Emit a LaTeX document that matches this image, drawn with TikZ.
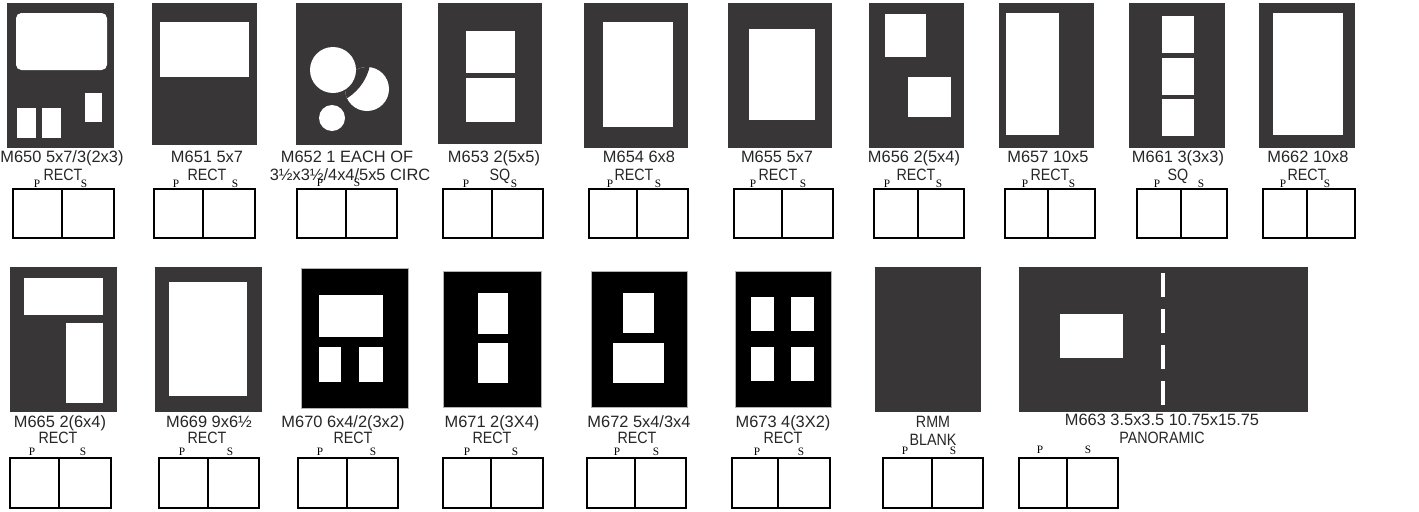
\documentclass[tikz,border=0pt]{standalone}
\usepackage{fontspec}
\setmainfont{Liberation Sans}
\newfontfamily\capsfont[FakeStretch=0.87]{Liberation Sans}
\newfontfamily\psfont{Liberation Serif}
\definecolor{matgray}{RGB}{56,54,55}

\begin{document}
\begin{tikzpicture}[x=0.75pt, y=-0.75pt,
    mat/.style={fill=matgray},
    blackmat/.style={fill=black, draw=gray!60, line width=0.5pt},
    win/.style={fill=white},
    lbl/.style={anchor=base, inner sep=0pt, text=black!85, font=\fontsize{12.3}{14}\selectfont},
    caps/.style={lbl, font=\capsfont\fontsize{12.3}{14}\selectfont},
    pslbl/.style={anchor=base, inner sep=0pt, font=\psfont\fontsize{8.5}{9}\selectfont},
    psbox/.style={draw, line width=1.4pt}]
    \useasboundingbox (0,0) rectangle (1419,511);

    % top row
    % M650
    \fill[mat] (7,3) rectangle (114,148);
    \fill[win, rounded corners=4pt] (16,13) rectangle (107,70);
    \fill[win] (17,108) rectangle (36,138);
    \fill[win] (42,108) rectangle (61,138);
    \fill[win] (85,93) rectangle (102,122);
    \node[lbl] (t650a) at (62,162) {M650 5x7/3(2x3)};
    \node[caps] (t650b) at (63,180) {RECT};
    \node[pslbl] (p650) at (37,187) {P};
    \node[pslbl] (s650) at (84,187) {S};

    % M651
    \fill[mat] (152,3) rectangle (257,145);
    \fill[win] (160,22) rectangle (249,77);
    \node[lbl] (t651a) at (207,162) {M651 5x7};
    \node[caps] (t651b) at (207,180) {RECT};
    \node[pslbl] (p651) at (176,187) {P};
    \node[pslbl] (s651) at (235,187) {S};

    % M652
    \fill[mat] (296,3) rectangle (402,145);
    \fill[win] (367,89) circle[radius=22];
    \begin{scope}
        \clip (367,89) circle[radius=22];
        \fill[mat] (320,55) circle[radius=51];
    \end{scope}
    \fill[win] (333,70) circle[radius=23];
    \fill[win] (332,118) circle[radius=13];
    \node[lbl] (t652a) at (347,162) {M652 1 EACH OF};
    \node[lbl] (t652b) at (350,180) {3½x3½/4x4/5x5 CIRC};
    \node[pslbl] (p652) at (320,186) {P};
    \node[pslbl] (s652) at (357,186) {S};

    % M653
    \fill[mat] (438,3) rectangle (542,144);
    \fill[win] (466,31) rectangle (515,73);
    \fill[win] (466,78) rectangle (515,122);
    \node[lbl] (t653a) at (494,162) {M653 2(5x5)};
    \node[caps] (t653b) at (500,180) {SQ};
    \node[pslbl] (p653) at (466,187) {P};
    \node[pslbl] (s653) at (514,187) {S};

    % M654
    \fill[mat] (584,3) rectangle (688,148);
    \fill[win] (603,22) rectangle (673,127);
    \node[lbl] (t654a) at (639,162) {M654 6x8};
    \node[caps] (t654b) at (634,180) {RECT};
    \node[pslbl] (p654) at (610,187) {P};
    \node[pslbl] (s654) at (658,187) {S};

    % M655
    \fill[mat] (728,3) rectangle (832,148);
    \fill[win] (749,29) rectangle (815,120);
    \node[lbl] (t655a) at (777,162) {M655 5x7};
    \node[caps] (t655b) at (778,180) {RECT};
    \node[pslbl] (p655) at (753,187) {P};
    \node[pslbl] (s655) at (803,187) {S};

    % M656
    \fill[mat] (869,3) rectangle (964,148);
    \fill[win] (885,14) rectangle (926,57);
    \fill[win] (908,77) rectangle (951,117);
    \node[lbl] (t656a) at (914,162) {M656 2(5x4)};
    \node[caps] (t656b) at (916,180) {RECT};
    \node[pslbl] (p656) at (887,187) {P};
    \node[pslbl] (s656) at (939,187) {S};

    % M657
    \fill[mat] (999,3) rectangle (1094,148);
    \fill[win] (1006,13) rectangle (1059,135);
    \node[lbl] (t657a) at (1048,162) {M657 10x5};
    \node[caps] (t657b) at (1050,180) {RECT};
    \node[pslbl] (p657) at (1025,187) {P};
    \node[pslbl] (s657) at (1072,187) {S};

    % M661
    \fill[mat] (1129,3) rectangle (1225,148);
    \foreach \y in {16,58,99} {
        \fill[win] (1162,\y) rectangle (1194,\y+37);
    }
    \node[lbl] (t661a) at (1178,162) {M661 3(3x3)};
    \node[caps] (t661b) at (1178,180) {SQ};
    \node[pslbl] (p661) at (1157,187) {P};
    \node[pslbl] (s661) at (1201,187) {S};

    % M662
    \fill[mat] (1259,3) rectangle (1355,148);
    \fill[win] (1273,13) rectangle (1343,135);
    \node[lbl] (t662a) at (1308,162) {M662 10x8};
    \node[caps] (t662b) at (1307,180) {RECT};
    \node[pslbl] (p662) at (1283,187) {P};
    \node[pslbl] (s662) at (1327,187) {S};

    % bottom row
    % M665
    \fill[mat] (10,267) rectangle (117,412);
    \fill[win] (24,278) rectangle (103,315);
    \fill[win] (66,323) rectangle (103,403);
    \node[lbl] (t665a) at (60,427) {M665 2(6x4)};
    \node[caps] (t665b) at (58,443) {RECT};
    \node[pslbl] (p665) at (32,455) {P};
    \node[pslbl] (s665) at (83,455) {S};

    % M669
    \fill[mat] (155,267) rectangle (262,412);
    \fill[win] (169,282) rectangle (247,396);
    \node[lbl] (t669a) at (209,427) {M669 9x6½};
    \node[caps] (t669b) at (207,443) {RECT};
    \node[pslbl] (p669) at (182,455) {P};
    \node[pslbl] (s669) at (230,455) {S};

    % M670
    \filldraw[blackmat] (301,268) rectangle (408,408);
    \fill[win] (319,295) rectangle (383,337);
    \fill[win] (319,347) rectangle (341,382);
    \fill[win] (359,347) rectangle (383,382);
    \node[lbl] (t670a) at (343,427) {M670 6x4/2(3x2)};
    \node[caps] (t670b) at (353,443) {RECT};
    \node[pslbl] (p670) at (320,455) {P};
    \node[pslbl] (s670) at (373,455) {S};

    % M671
    \filldraw[blackmat] (443,271) rectangle (541,407);
    \fill[win] (478,293) rectangle (508,334);
    \fill[win] (478,343) rectangle (508,383);
    \node[lbl] (t671a) at (492,427) {M671 2(3X4)};
    \node[caps] (t671b) at (492,443) {RECT};
    \node[pslbl] (p671) at (467,455) {P};
    \node[pslbl] (s671) at (515,455) {S};

    % M672
    \filldraw[blackmat] (591,271) rectangle (687,407);
    \fill[win] (623,293) rectangle (654,333);
    \fill[win] (613,343) rectangle (664,383);
    \node[lbl] (t672a) at (639,427) {M672 5x4/3x4};
    \node[caps] (t672b) at (637,443) {RECT};
    \node[pslbl] (p672) at (617,455) {P};
    \node[pslbl] (s672) at (656,455) {S};

    % M673
    \filldraw[blackmat] (735,271) rectangle (831,407);
    \foreach \x in {751,791} {
        \foreach \y in {297,347} {
            \fill[win] (\x,\y) rectangle (\x+23,\y+34);
        }
    }
    \node[lbl] (t673a) at (783,427) {M673 4(3X2)};
    \node[caps] (t673b) at (783,443) {RECT};
    \node[pslbl] (p673) at (757,455) {P};
    \node[pslbl] (s673) at (801,455) {S};

    % RMM
    \fill[mat] (875,267) rectangle (981,412);
    \node[caps] (trmma) at (933,427) {RMM};
    \node[caps] (trmmb) at (933,445) {BLANK};
    \node[pslbl] (prmm) at (905,454) {P};
    \node[pslbl] (srmm) at (953,454) {S};

    % M663
    \fill[mat] (1019,267) rectangle (1308,412);
    \fill[win] (1060,314) rectangle (1123,358);
    \foreach \y in {273,309,345,381} {
        \fill[win] (1161,\y) rectangle (1165,\y+24);
    }
    \node[lbl] (t663a) at (1162,425) {M663 3.5x3.5 10.75x15.75};
    \node[caps] (t663b) at (1162,443) {PANORAMIC};
    \node[pslbl] (p663) at (1040,453) {P};
    \node[pslbl] (s663) at (1088,453) {S};

    % P/S boxes
    \foreach \l/\d/\r in {13/62/114, 154/203/255, 297/346/397, 443/492/543, 589/637/688,
                          734/782/833, 874/918/964, 1005/1048/1095, 1137/1181/1227, 1263/1307/1355} {
        \draw[psbox] (\l,189) rectangle (\r,238);
        \draw[line width=1.4pt] (\d,189) -- (\d,238);
    }
    \foreach \l/\d/\r in {10/59/111, 159/208/259, 298/347/398, 443/491/543, 587/635/686,
                          732/778/830, 883/932/983, 1019/1067/1118} {
        \draw[psbox] (\l,458) rectangle (\r,508);
        \draw[line width=1.4pt] (\d,458) -- (\d,508);
    }
\end{tikzpicture}
\end{document}
